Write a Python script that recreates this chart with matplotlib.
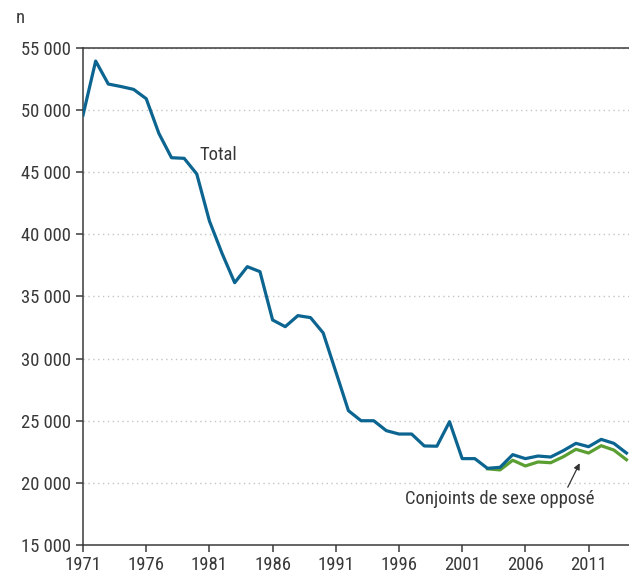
import matplotlib.pyplot as plt
from matplotlib.ticker import FuncFormatter

# Divorces per year
years = list(range(1971, 2015))
total = [
    49600, 53950, 52100, 51900, 51670, 50920, 48130, 46170, 46120, 44860,
    41080, 38470, 36110, 37400, 37000, 33110, 32570, 33460, 33300, 32070,
    28950, 25810, 25000, 25000, 24200, 23930, 23930, 22970, 22950, 24920,
    21950, 21950, 21170, 21250, 22270, 21950, 22160, 22080, 22590, 23180,
    22910, 23500, 23180, 22400,
]
opp_years = list(range(2003, 2015))
opposite_sex = [
    21130, 21040, 21820, 21360, 21680, 21620, 22100, 22700, 22400, 22990,
    22640, 21860,
]

x_ticks = list(range(1971, 2015, 5))
y_ticks = list(range(15000, 55001, 5000))

plt.rcParams['font.family'] = ['Roboto Condensed', 'Archivo Narrow', 'DejaVu Sans']
text_col = '#383838'
fsize = 13.4

fig = plt.figure(figsize=(6.29, 5.77), dpi=100)
ax = fig.add_axes([0.132, 0.0555, 0.868, 0.8613])

ax.plot(years, total, color='#0b6590', linewidth=2.3, zorder=3)
ax.plot(opp_years, opposite_sex, color='#5b9f33', linewidth=2.3, zorder=2)

ax.set_xlim(1971, 2014.2)
ax.set_ylim(15000, 55000)
ax.set_xticks(x_ticks)
ax.set_yticks(y_ticks)
ax.yaxis.set_major_formatter(
    FuncFormatter(lambda v, p: f"{int(v):,}".replace(",", " "))
)

for side in ['left', 'bottom', 'top']:
    ax.spines[side].set_color('#3a3a3a')
    ax.spines[side].set_linewidth(1.1)
ax.spines['right'].set_visible(False)

ax.tick_params(axis='both', colors='#3a3a3a', length=5, width=1.1,
               labelsize=fsize, labelcolor=text_col)
ax.tick_params(axis='x', pad=3)
ax.tick_params(axis='y', pad=4)

ax.grid(axis='y', linestyle=(0, (1, 2.5)), color='#c4c4c4', linewidth=1)
for line in ax.get_ygridlines()[:1]:
    line.set_visible(False)

ax.text(1980.25, 46390, "Total", fontsize=fsize, color=text_col,
        va='center', ha='left')
ax.annotate("Conjoints de sexe opposé", xy=(2010.3, 21580),
            xytext=(1996.5, 18700), fontsize=fsize, color=text_col,
            va='center', ha='left',
            arrowprops=dict(arrowstyle='-|>', color='#333333', lw=0.9,
                            mutation_scale=9, shrinkA=0, shrinkB=0,
                            relpos=(0.85, 1.0)))

fig.text(0.025, 0.968, "n", fontsize=fsize, color=text_col,
         va='center', ha='left')

fig.savefig('out.png', dpi=100)
